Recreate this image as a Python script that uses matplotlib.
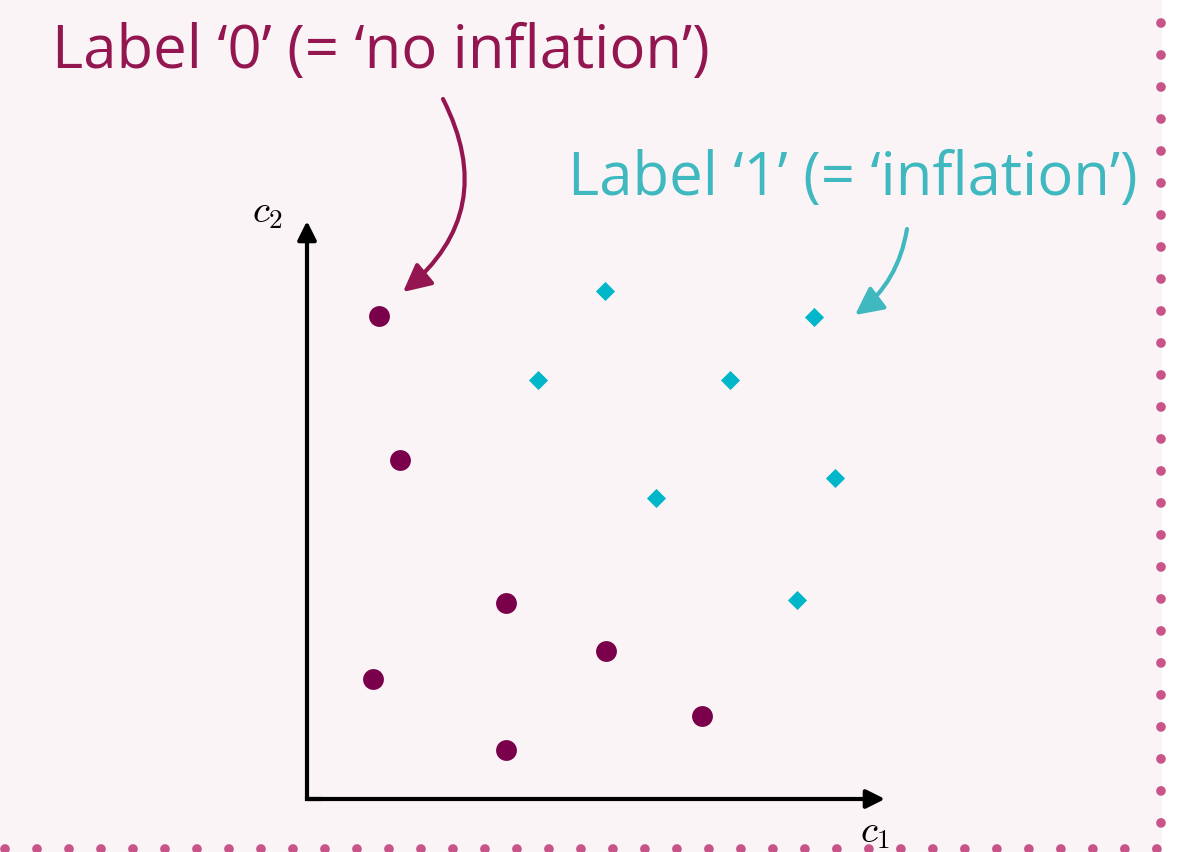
import matplotlib
matplotlib.use("Agg")
import matplotlib.pyplot as plt
from matplotlib.patches import Rectangle

# data (units: axis length = 10)
c1_label0 = [1.25, 1.61, 3.44, 1.14, 3.44, 5.17, 6.83]
c2_label0 = [8.36, 5.87, 3.39, 2.08, 0.85, 2.56, 1.44]
c1_label1 = [5.16, 4.00, 7.32, 8.77, 6.04, 9.13, 8.48]
c2_label1 = [8.79, 7.25, 7.25, 8.34, 5.21, 5.55, 3.44]

W, H = 1178, 853
ox, oy, unit = 307, 800, 57.8

bg = "#faf4f7"
dot_col = "#c9548a"
col0 = "#7a004b"
col1 = "#00b7ca"
txt0 = "#931650"
txt1 = "#40b8c0"

plt.rcParams['mathtext.fontset'] = 'cm'

fig = plt.figure(figsize=(W / 100, H / 100), dpi=100, facecolor="white")
fig.patches.append(Rectangle((0, 0), 1162 / W, 1, transform=fig.transFigure,
                             facecolor=bg, edgecolor="none", zorder=-5))
ax = fig.add_axes([0, 0, 1, 1])
ax.set_facecolor("none")
ax.set_xlim(-ox / unit, (W - ox) / unit)
ax.set_ylim(-(H - oy) / unit, oy / unit)
ax.axis("off")


def px(x, y):
    return (x - ox) / unit, (oy - y) / unit


# dotted border (right and bottom)
dots = dict(color=dot_col, lw=7, linestyle=(0, (0.001, 3.29)),
            dash_capstyle="round", transform=fig.transFigure, zorder=1)
fig.add_artist(plt.Line2D([1161 / W, 1161 / W], [1 - 24 / H, 1 - 830 / H], **dots))
fig.add_artist(plt.Line2D([5 / W, 1160 / W], [1 - 850 / H, 1 - 850 / H], **dots))

# axes with arrows
ax.annotate("", xy=(10, 0), xytext=(0, 0),
            arrowprops=dict(arrowstyle="-|>", lw=3, color="black",
                            mutation_scale=28, shrinkA=0, shrinkB=0))
ax.annotate("", xy=(0, 10), xytext=(0, 0),
            arrowprops=dict(arrowstyle="-|>", lw=3, color="black",
                            mutation_scale=28, shrinkA=0, shrinkB=0))
ax.plot([0, 0.2], [0, 0], color="black", lw=3, solid_capstyle="projecting")
ax.text(*px(860, 842), r"$c_1$", fontsize=28, ha="left", va="baseline")
ax.text(*px(252, 222), r"$c_2$", fontsize=28, ha="left", va="baseline")

ax.scatter(c1_label0, c2_label0, s=225, marker="o", color=col0, lw=0, zorder=3)
ax.scatter(c1_label1, c2_label1, s=95, marker="D", color=col1, lw=0, zorder=3)

ax.text(*px(52, 68), "Label \u20180\u2019 (= \u2018no inflation\u2019)", color=txt0,
        fontsize=43, family="Open Sans", ha="left", va="baseline")
ax.text(*px(568, 195), "Label \u20181\u2019 (= \u2018inflation\u2019)", color=txt1,
        fontsize=43, family="Open Sans", ha="left", va="baseline")

ax.annotate("", xy=px(403, 293), xytext=px(443, 100),
            arrowprops=dict(arrowstyle="-|>", lw=3, color=txt0, mutation_scale=42,
                            shrinkA=0, shrinkB=0, connectionstyle="arc3,rad=-0.4"))
ax.annotate("", xy=px(855, 316), xytext=px(907, 230),
            arrowprops=dict(arrowstyle="-|>", lw=3, color=txt1, mutation_scale=42,
                            shrinkA=0, shrinkB=0, connectionstyle="arc3,rad=-0.2"))

fig.savefig("out.png", dpi=100, facecolor="white")
